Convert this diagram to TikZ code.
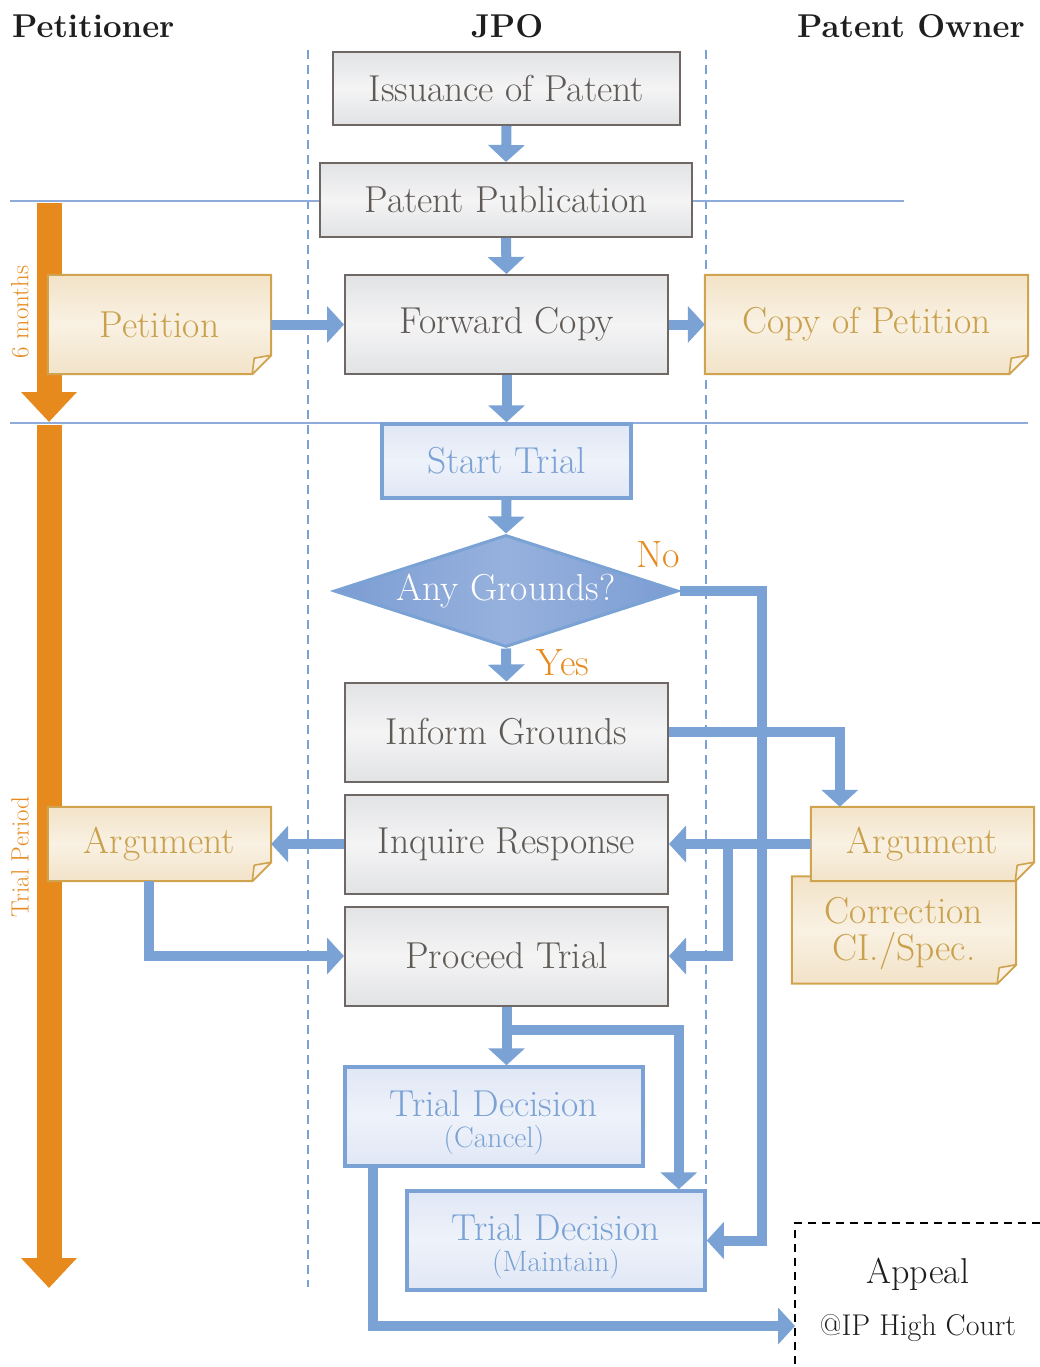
\documentclass[tikz,border=0pt]{standalone}
\usetikzlibrary{arrows.meta,shapes.geometric,backgrounds}
\definecolor{blueA}{RGB}{123,162,212}
\definecolor{thinL}{RGB}{142,171,220}
\definecolor{grayB}{RGB}{110,103,99}
\definecolor{grayT}{RGB}{95,90,86}
\definecolor{grayF}{RGB}{226,227,229}
\definecolor{grayM}{RGB}{244,244,245}
\definecolor{blueF}{RGB}{224,231,245}
\definecolor{blueM}{RGB}{238,242,250}
\definecolor{diaE}{RGB}{124,157,211}
\definecolor{diaM}{RGB}{150,177,221}
\definecolor{noteF}{RGB}{242,227,200}
\definecolor{noteM}{RGB}{249,241,227}
\definecolor{noteB}{RGB}{208,164,78}
\definecolor{noteT}{RGB}{201,160,76}
\definecolor{orangeA}{RGB}{230,138,30}
\definecolor{headT}{RGB}{30,30,30}
\newcommand\mfont{\fontsize{37.5}{37}\selectfont}
\newcommand\smallfnt{\fontsize{29.5}{30}\selectfont}
\newcommand\hfont{\fontsize{33}{36}\selectfont\bfseries}
\newcommand\rfont{\fontsize{25}{26}\selectfont}
\newcommand\notebg[1]{%
  \draw[notebody] (#1.north west) -- (#1.north east) -- ([yshift=19pt]#1.south east) -- ([xshift=-19pt]#1.south east) -- (#1.south west) -- cycle;
  \draw[notefold] ([yshift=19pt]#1.south east) -- ([xshift=-17pt,yshift=16pt]#1.south east) -- ([xshift=-19pt]#1.south east) -- cycle;}
\begin{document}
\begin{tikzpicture}[x=1pt,y=-1pt,
  base/.style={inner sep=0pt, font=\mfont, align=center},
  graybox/.style={base, draw=grayB, line width=2pt, top color=grayF, bottom color=grayF, middle color=grayM, text=grayT, minimum width=323pt, minimum height=99pt},
  bluebox/.style={base, draw=blueA, line width=3.5pt, top color=blueF, bottom color=blueF, middle color=blueM, text=blueA},
  dia/.style={diamond, aspect=3.1, minimum width=344pt, minimum height=112pt, inner sep=0pt, draw=blueA, line width=3pt, left color=diaE, right color=diaE, middle color=diaM, text=white, font=\mfont},
  notetxt/.style={base, text=noteT},
  notebody/.style={draw=noteB, line width=2pt, top color=noteF, bottom color=noteF, middle color=noteM},
  notefold/.style={draw=noteB, line width=1.6pt, fill=noteM, line join=round},
  conn/.style={draw=blueA, line width=10pt, -{Triangle[width=36pt,length=17pt]}},
  oarrow/.style={draw=orangeA, line width=25pt, -{Triangle[width=54pt,length=30pt]}},
  lane/.style={draw=blueA, line width=1.6pt, dash pattern=on 9pt off 6pt},
  sep/.style={draw=thinL, line width=1.6pt},
  head/.style={font=\hfont, text=headT, inner sep=0pt},
  otext/.style={text=orangeA, inner sep=0pt}
]
\useasboundingbox (0,0) rectangle (1040,1367);

% headers
\node[head, anchor=base west] (hpet) at (12,38) {Petitioner};
\node[head, anchor=base] (hjpo) at (507,38) {JPO};
\node[head, anchor=base east] (hown) at (1025,38) {Patent Owner};

% JPO boxes
\node[graybox, minimum width=347pt, minimum height=73pt] (iss) at (506.5,88.5) {Issuance of Patent};
\node[graybox, minimum width=372pt, minimum height=74pt] (pub) at (506,200) {Patent Publication};
\node[graybox] (fwd) at (506.5,324.5) {Forward Copy};
\node[bluebox, minimum width=249pt, minimum height=74pt] (start) at (506.5,461) {Start Trial};
\node[dia] (dia) at (506,591) {Any Grounds?};
\node[graybox] (inf) at (506.5,732) {Inform Grounds};
\node[graybox] (inq) at (506.5,844) {Inquire Response};
\node[graybox] (proc) at (506.5,956) {Proceed Trial};
\node[bluebox, minimum width=298pt, minimum height=99pt] (canc) at (494,1116.5) {\rule{0pt}{38pt}Trial Decision\\[-6pt]{\smallfnt (Cancel)}};
\node[bluebox, minimum width=298pt, minimum height=99pt] (maint) at (556,1240.5) {\rule{0pt}{38pt}Trial Decision\\[-6pt]{\smallfnt (Maintain)}};

% notes (text)
\node[notetxt, minimum width=223pt, minimum height=99pt] (pet) at (159.5,324.5) {Petition};
\node[notetxt, minimum width=323pt, minimum height=99pt] (copy) at (866.5,324.5) {Copy of Petition};
\node[notetxt, minimum width=223pt, minimum height=74pt] (argL) at (159.5,844) {Argument};
\node[notetxt, minimum width=224pt, minimum height=107pt] (corr) at (904,930) {\rule{0pt}{34pt}Correction\\CI./Spec.};
\node[notetxt, minimum width=223pt, minimum height=74pt] (argR) at (922.5,844) {Argument};

% labels
\node[otext, font=\fontsize{38}{40}\selectfont, anchor=base] (no) at (658,567) {No};
\node[otext, font=\fontsize{38}{40}\selectfont, anchor=base] (yes) at (563,675) {Yes};
\node[otext, font=\rfont, rotate=90] (six) at (20,312) {6 months};
\node[otext, font=\rfont, rotate=90] (tp) at (20,857) {Trial Period};

% appeal
\node[base, font=\fontsize{36}{38}\selectfont, text=headT] (appeal) at (918,1274) {Appeal};
\node[base, font=\fontsize{30}{32}\selectfont, text=headT] (court) at (918,1328) {@IP High Court};
\coordinate (appin) at (795,1326);
\draw[black, line width=1.5pt, dash pattern=on 8pt off 6pt] (1040,1223) -- (795,1223) -- (795,1367);

% background
\begin{scope}[on background layer]
  \draw[lane] (308,50) -- (308,1287);
  \draw[lane] (706,50) -- (706,1287);
  \draw[sep] (10,201) -- (904,201);
  \draw[sep] (10,423) -- (1028,423);
  \draw[oarrow] (49,203) -- (49,422);
  \draw[oarrow] (49,425) -- (49,1288);
  \notebg{pet}
  \notebg{copy}
  \notebg{argL}
  \notebg{corr}
  \notebg{argR}
\end{scope}

% connectors
\draw[conn] (iss.south) -- (pub.north);
\draw[conn] (pub.south) -- (fwd.north);
\draw[conn] (pet.east) -- (fwd.west);
\draw[conn] (fwd.east) -- (copy.west);
\draw[conn] (fwd.south) -- (start.north);
\draw[conn] (start.south) -- (dia.north);
\draw[conn] (dia.south) -- (inf.north);
\draw[conn] (dia.east) -| ([xshift=55pt]maint.east) -- (maint.east);
\draw[conn] (inf.east) -| ([xshift=29pt]argR.north west);
\draw[conn] (argR.west) -- (inq.east);
\draw[conn] ([xshift=59pt]inq.east) |- (proc.east);
\draw[conn] (inq.west) -- (argL.east);
\draw[conn] ([xshift=101pt]argL.south west) |- (proc.west);
\draw[conn] (proc.south) -- (proc.south |- canc.north);
\draw[conn] ([yshift=-23pt]proc.south) -| ([xshift=-28pt]maint.north east);
\draw[conn] ([xshift=30pt]canc.south west) |- (appin);
\end{tikzpicture}
\end{document}
